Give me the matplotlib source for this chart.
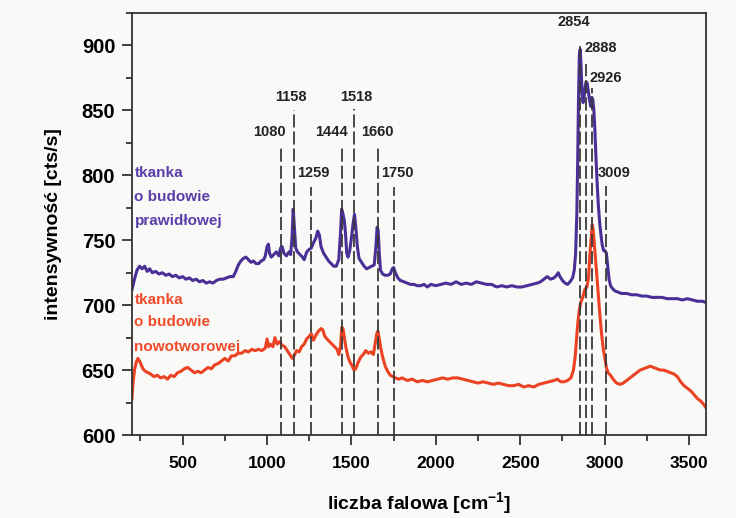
import matplotlib
matplotlib.use("Agg")
import matplotlib.pyplot as plt
from matplotlib.ticker import MultipleLocator

plt.rcParams['font.family'] = ['Liberation Sans', 'DejaVu Sans']
plt.rcParams['font.weight'] = 'bold'
plt.rcParams['mathtext.fontset'] = 'custom'
plt.rcParams['mathtext.rm'] = 'Liberation Sans:bold'
plt.rcParams['mathtext.bf'] = 'Liberation Sans:bold'
plt.rcParams['lines.scale_dashes'] = False

# Raman spectrum of normal tissue (wavenumber, intensity)
normal_x = [200, 215, 230, 245, 260, 275, 290, 305, 320, 340, 360, 380, 400, 420, 440, 460, 480, 500,
            520, 540, 560, 580, 600, 620, 640, 660, 680, 700, 720, 740, 760, 780, 800, 815, 830, 845,
            860, 875, 890, 905, 920, 935, 950, 965, 980, 990, 1000, 1008, 1015, 1025, 1040, 1055, 1070,
            1080, 1090, 1100, 1115, 1130, 1140, 1148, 1155, 1162, 1170, 1180, 1195, 1210, 1220, 1235,
            1250, 1262, 1275, 1290, 1300, 1310, 1320, 1335, 1350, 1365, 1380, 1395, 1410, 1425, 1435,
            1442, 1450, 1458, 1465, 1472, 1480, 1490, 1500, 1510, 1518, 1526, 1535, 1545, 1560, 1575,
            1590, 1605, 1620, 1635, 1645, 1652, 1658, 1665, 1672, 1685, 1700, 1715, 1730, 1742, 1750,
            1760, 1775, 1790, 1810, 1830, 1850, 1870, 1890, 1910, 1930, 1950, 1970, 2000, 2030, 2060,
            2090, 2120, 2150, 2180, 2210, 2240, 2270, 2300, 2330, 2360, 2390, 2420, 2450, 2480, 2510,
            2540, 2570, 2600, 2620, 2640, 2660, 2680, 2700, 2715, 2725, 2735, 2750, 2765, 2780, 2795,
            2810, 2820, 2828, 2835, 2840, 2845, 2850, 2855, 2860, 2866, 2872, 2878, 2884, 2890, 2896,
            2902, 2910, 2918, 2924, 2930, 2936, 2942, 2948, 2955, 2962, 2970, 2978, 2986, 2994, 3002,
            3010, 3018, 3026, 3035, 3045, 3060, 3080, 3100, 3130, 3160, 3190, 3220, 3250, 3280, 3310,
            3340, 3370, 3400, 3430, 3460, 3490, 3520, 3550, 3580, 3600]
normal_y = [712, 720, 727, 730, 728, 730, 726, 728, 725, 726, 724, 725, 723, 724, 722, 723, 721, 722,
            720, 721, 719, 720, 718, 719, 717, 718, 717, 719, 720, 720, 721, 722, 722, 726, 731, 734,
            736, 737, 735, 733, 734, 732, 732, 734, 735, 738, 745, 747, 740, 737, 739, 741, 738,
            744, 745, 740, 738, 741, 739, 752, 774, 760, 744, 741, 739, 737, 735, 741,
            743, 744, 748, 752, 757, 754, 745, 740, 737, 734, 732, 730, 730, 735, 755,
            774, 770, 765, 755, 740, 737, 742, 752, 763, 770, 760, 745, 736, 733, 730,
            728, 729, 730, 731, 745, 760, 758, 740, 727, 724, 723, 723, 724, 728, 729,
            725, 721, 719, 718, 717, 716, 716, 715, 715, 716, 714, 716, 715, 716, 717,
            716, 718, 716, 717, 716, 718, 717, 716, 716, 714, 715, 714, 715, 714, 714,
            715, 716, 717, 718, 720, 722, 720, 721, 723, 725, 722, 719, 717, 716, 718,
            721, 727, 740, 770, 810, 860, 893, 897, 885, 862, 856, 860, 868, 872, 871,
            866, 858, 853, 860, 858, 850, 835, 815, 795, 778, 764, 754, 746, 742, 742,
            740, 730, 720, 715, 713, 711, 710, 709, 709, 708, 708, 707, 707, 706, 706,
            706, 705, 705, 705, 704, 705, 704, 703, 703, 702]

# Raman spectrum of tumour tissue (wavenumber, intensity)
tumor_x = [200, 206, 215, 225, 235, 245, 255, 265, 280, 295, 310, 330, 350, 370, 390, 410, 430, 450,
           470, 490, 510, 530, 550, 570, 590, 610, 630, 650, 670, 690, 710, 730, 750, 770, 790, 810,
           830, 850, 870, 890, 910, 930, 950, 970, 990, 1000, 1010, 1020, 1035, 1047, 1060, 1075,
           1090, 1105, 1120, 1135, 1150, 1160, 1175, 1190, 1205, 1220, 1235, 1250, 1262, 1275, 1290,
           1305, 1320, 1330, 1342, 1355, 1370, 1385, 1400, 1415, 1425, 1435, 1443, 1450, 1458, 1468,
           1480, 1492, 1505, 1515, 1525, 1540, 1555, 1570, 1585, 1600, 1615, 1630, 1640, 1650, 1657,
           1664, 1672, 1685, 1700, 1715, 1730, 1745, 1760, 1780, 1800, 1830, 1860, 1890, 1920, 1950,
           1980, 2010, 2040, 2070, 2100, 2130, 2160, 2190, 2220, 2250, 2280, 2310, 2340, 2370, 2400,
           2430, 2460, 2490, 2520, 2550, 2580, 2610, 2640, 2670, 2700, 2720, 2740, 2760, 2780, 2800,
           2815, 2825, 2832, 2840, 2848, 2858, 2870, 2882, 2895, 2905, 2912, 2920, 2926, 2932, 2940,
           2950, 2960, 2970, 2980, 2990, 3000, 3010, 3020, 3035, 3050, 3070, 3090, 3110, 3130, 3150,
           3170, 3190, 3210, 3230, 3250, 3270, 3290, 3310, 3330, 3350, 3370, 3390, 3410, 3430, 3450,
           3470, 3490, 3510, 3530, 3550, 3570, 3590, 3600]
tumor_y = [628, 640, 650, 656, 659, 657, 654, 651, 649, 648, 647, 645, 646, 644, 645, 643, 646, 645,
           648, 649, 651, 652, 650, 648, 649, 648, 650, 652, 651, 654, 655, 657, 659, 657, 661, 661,
           663, 663, 665, 664, 666, 665, 666, 665, 667, 674, 668, 670, 668, 675, 670, 672,
           669, 668, 665, 662, 659, 661, 665, 664, 668, 670, 674, 676, 678, 673, 677,
           680, 682, 681, 676, 674, 672, 670, 668, 666, 662, 668, 683, 682, 675, 667,
           660, 656, 653, 650, 651, 656, 660, 662, 665, 663, 664, 662, 670, 678, 680,
           675, 668, 660, 653, 649, 646, 645, 644, 643, 644, 642, 643, 641, 642, 641,
           642, 643, 644, 643, 644, 644, 643, 642, 641, 640, 641, 640, 639, 640, 639,
           638, 638, 639, 637, 638, 637, 639, 640, 641, 642, 643, 641, 641, 642, 644,
           650, 660, 672, 685, 695, 702, 706, 712, 714, 722, 738, 752, 762, 758, 745,
           728, 712, 695, 680, 668, 660, 652, 648, 646, 643, 640, 639, 640, 642, 644,
           646, 648, 650, 651, 652, 653, 652, 651, 650, 650, 649, 648, 647, 645, 641,
           638, 636, 634, 631, 628, 626, 623, 621]

# Marked Raman bands
band_pos = [1080, 1158, 1259, 1444, 1518, 1660, 1750, 2854, 2888, 2926, 3009]
band_labels = ['1080', '1158', '1259', '1444', '1518', '1660', '1750', '2854', '2888', '2926', '3009']
band_top = [823, 850, 791, 823, 851, 823, 791, 902, 886, 867, 792]

# label placement: centre height and horizontal shift in pixels
label_y = [833, 860, 801.5, 833, 860, 833, 801.5, 917.7, 897.7, 875, 802]
label_dx = [-11, -2.5, 3, -10, 2, -1, 4, -6.5, 14.5, 14, 8]

purple = '#4a2f96'
red = '#ea4222'
bg = '#f9f9f7'

fig = plt.figure(figsize=(7.36, 5.18), dpi=100, facecolor=bg)
ax = fig.add_axes([0.1793, 0.1602, 0.9592 - 0.1793, 0.9749 - 0.1602])
ax.set_facecolor(bg)

ax.plot(normal_x, normal_y, color=purple, lw=2.2, zorder=2)
ax.plot(tumor_x, tumor_y, color=red, lw=2.2, zorder=2)

for pos, top, lab, ly, dx in zip(band_pos, band_top, band_labels, label_y, label_dx):
    ax.plot([pos, pos], [600, top], color='#3a3a3a', lw=1.3, dashes=(9.4, 2.9), zorder=3)
    ax.annotate(lab, xy=(pos, ly), xytext=(dx * 0.72, 0), textcoords='offset points',
                ha='center', va='center', fontsize=10.5, fontweight='bold', color='#222222')

for i, line in enumerate(['tkanka', 'o budowie', 'prawidłowej']):
    ax.text(215, [801.5, 783, 765][i], line, color='#5a3eaa', fontsize=11,
            fontweight='bold', va='center', ha='left')
for i, line in enumerate(['tkanka', 'o budowie', 'nowotworowej']):
    ax.text(215, [704, 687, 668][i], line, color='#f04b2a', fontsize=11,
            fontweight='bold', va='center', ha='left')

ax.set_xlim(200, 3600)
ax.set_ylim(600, 925)
ax.xaxis.set_major_locator(MultipleLocator(500))
ax.xaxis.set_minor_locator(MultipleLocator(250))
ax.yaxis.set_major_locator(MultipleLocator(50))
ax.yaxis.set_minor_locator(MultipleLocator(25))
ax.tick_params(axis='both', which='major', direction='out', length=7, width=1.3, color='#333333')
ax.tick_params(axis='both', which='minor', direction='out', length=4.5, width=1.3, color='#333333')
ax.tick_params(axis='x', labelsize=12.5, pad=8)
ax.tick_params(axis='y', labelsize=14.5, pad=5)
for lab in ax.get_xticklabels() + ax.get_yticklabels():
    lab.set_fontweight('bold')
for sp in ax.spines.values():
    sp.set_color('#333333')
    sp.set_linewidth(1.3)

ax.set_xlabel(r'liczba falowa [cm$^{\mathbf{-1}}$]', fontsize=14, fontweight='bold', labelpad=14)
ax.set_ylabel('intensywność [cts/s]', fontsize=14, fontweight='bold', labelpad=14)

fig.savefig('out.png', dpi=100, facecolor=bg)
